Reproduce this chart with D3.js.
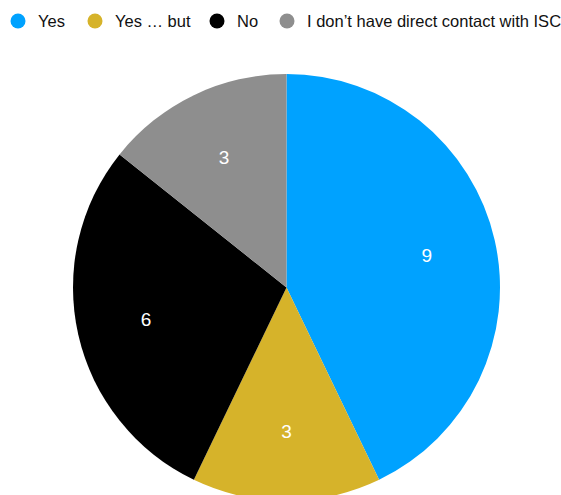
<!DOCTYPE html>
<html>
<head>
<meta charset="utf-8">
<script src="https://cdn.jsdelivr.net/npm/d3@7"></script>
<style>
  html, body { margin: 0; padding: 0; background: #fff; }
  svg { display: block; font-family: "Liberation Sans", Arial, Helvetica, sans-serif; }
</style>
</head>
<body>
<svg id="chart" width="561" height="495"></svg>
<script>
// Answer categories and counts
const categories = ["Yes", "Yes … but", "No", "I don’t have direct contact with ISC"];
const counts = [9, 3, 6, 3];
const colors = ["#00a2ff", "#d6b32a", "#000000", "#8e8e8e"];

const width = 561, height = 495;
const cx = 286.5, cy = 287.5, radius = 213.5;

const svg = d3.select("#chart");

const data = categories.map((c, i) => ({ category: c, value: counts[i], color: colors[i] }));

const pie = d3.pie().value(d => d.value).sort(null);
const arc = d3.arc().innerRadius(0).outerRadius(radius);
const labelArc = d3.arc().innerRadius(144).outerRadius(144);

const g = svg.append("g").attr("transform", `translate(${cx},${cy})`);
const arcs = pie(data);

g.selectAll("path.slice")
  .data(arcs)
  .join("path")
  .attr("class", "slice")
  .attr("d", arc)
  .attr("fill", d => d.data.color);

g.selectAll("text.value")
  .data(arcs)
  .join("text")
  .attr("class", "value")
  .attr("transform", d => `translate(${labelArc.centroid(d)})`)
  .attr("text-anchor", "middle")
  .attr("dominant-baseline", "central")
  .attr("fill", "#fff")
  .attr("font-size", 19)
  .text(d => d.data.value);

// Legend across the top
const legendX = [18, 95, 217, 287];
const legend = svg.append("g");
const items = legend.selectAll("g.item")
  .data(data)
  .join("g")
  .attr("class", "item")
  .attr("transform", (d, i) => `translate(${legendX[i]},21)`);

items.append("circle")
  .attr("r", 7.5)
  .attr("fill", d => d.color);

items.append("text")
  .attr("x", 20)
  .attr("dominant-baseline", "central")
  .attr("font-size", 16.5)
  .attr("fill", "#111")
  .text(d => d.category);
</script>
</body>
</html>
